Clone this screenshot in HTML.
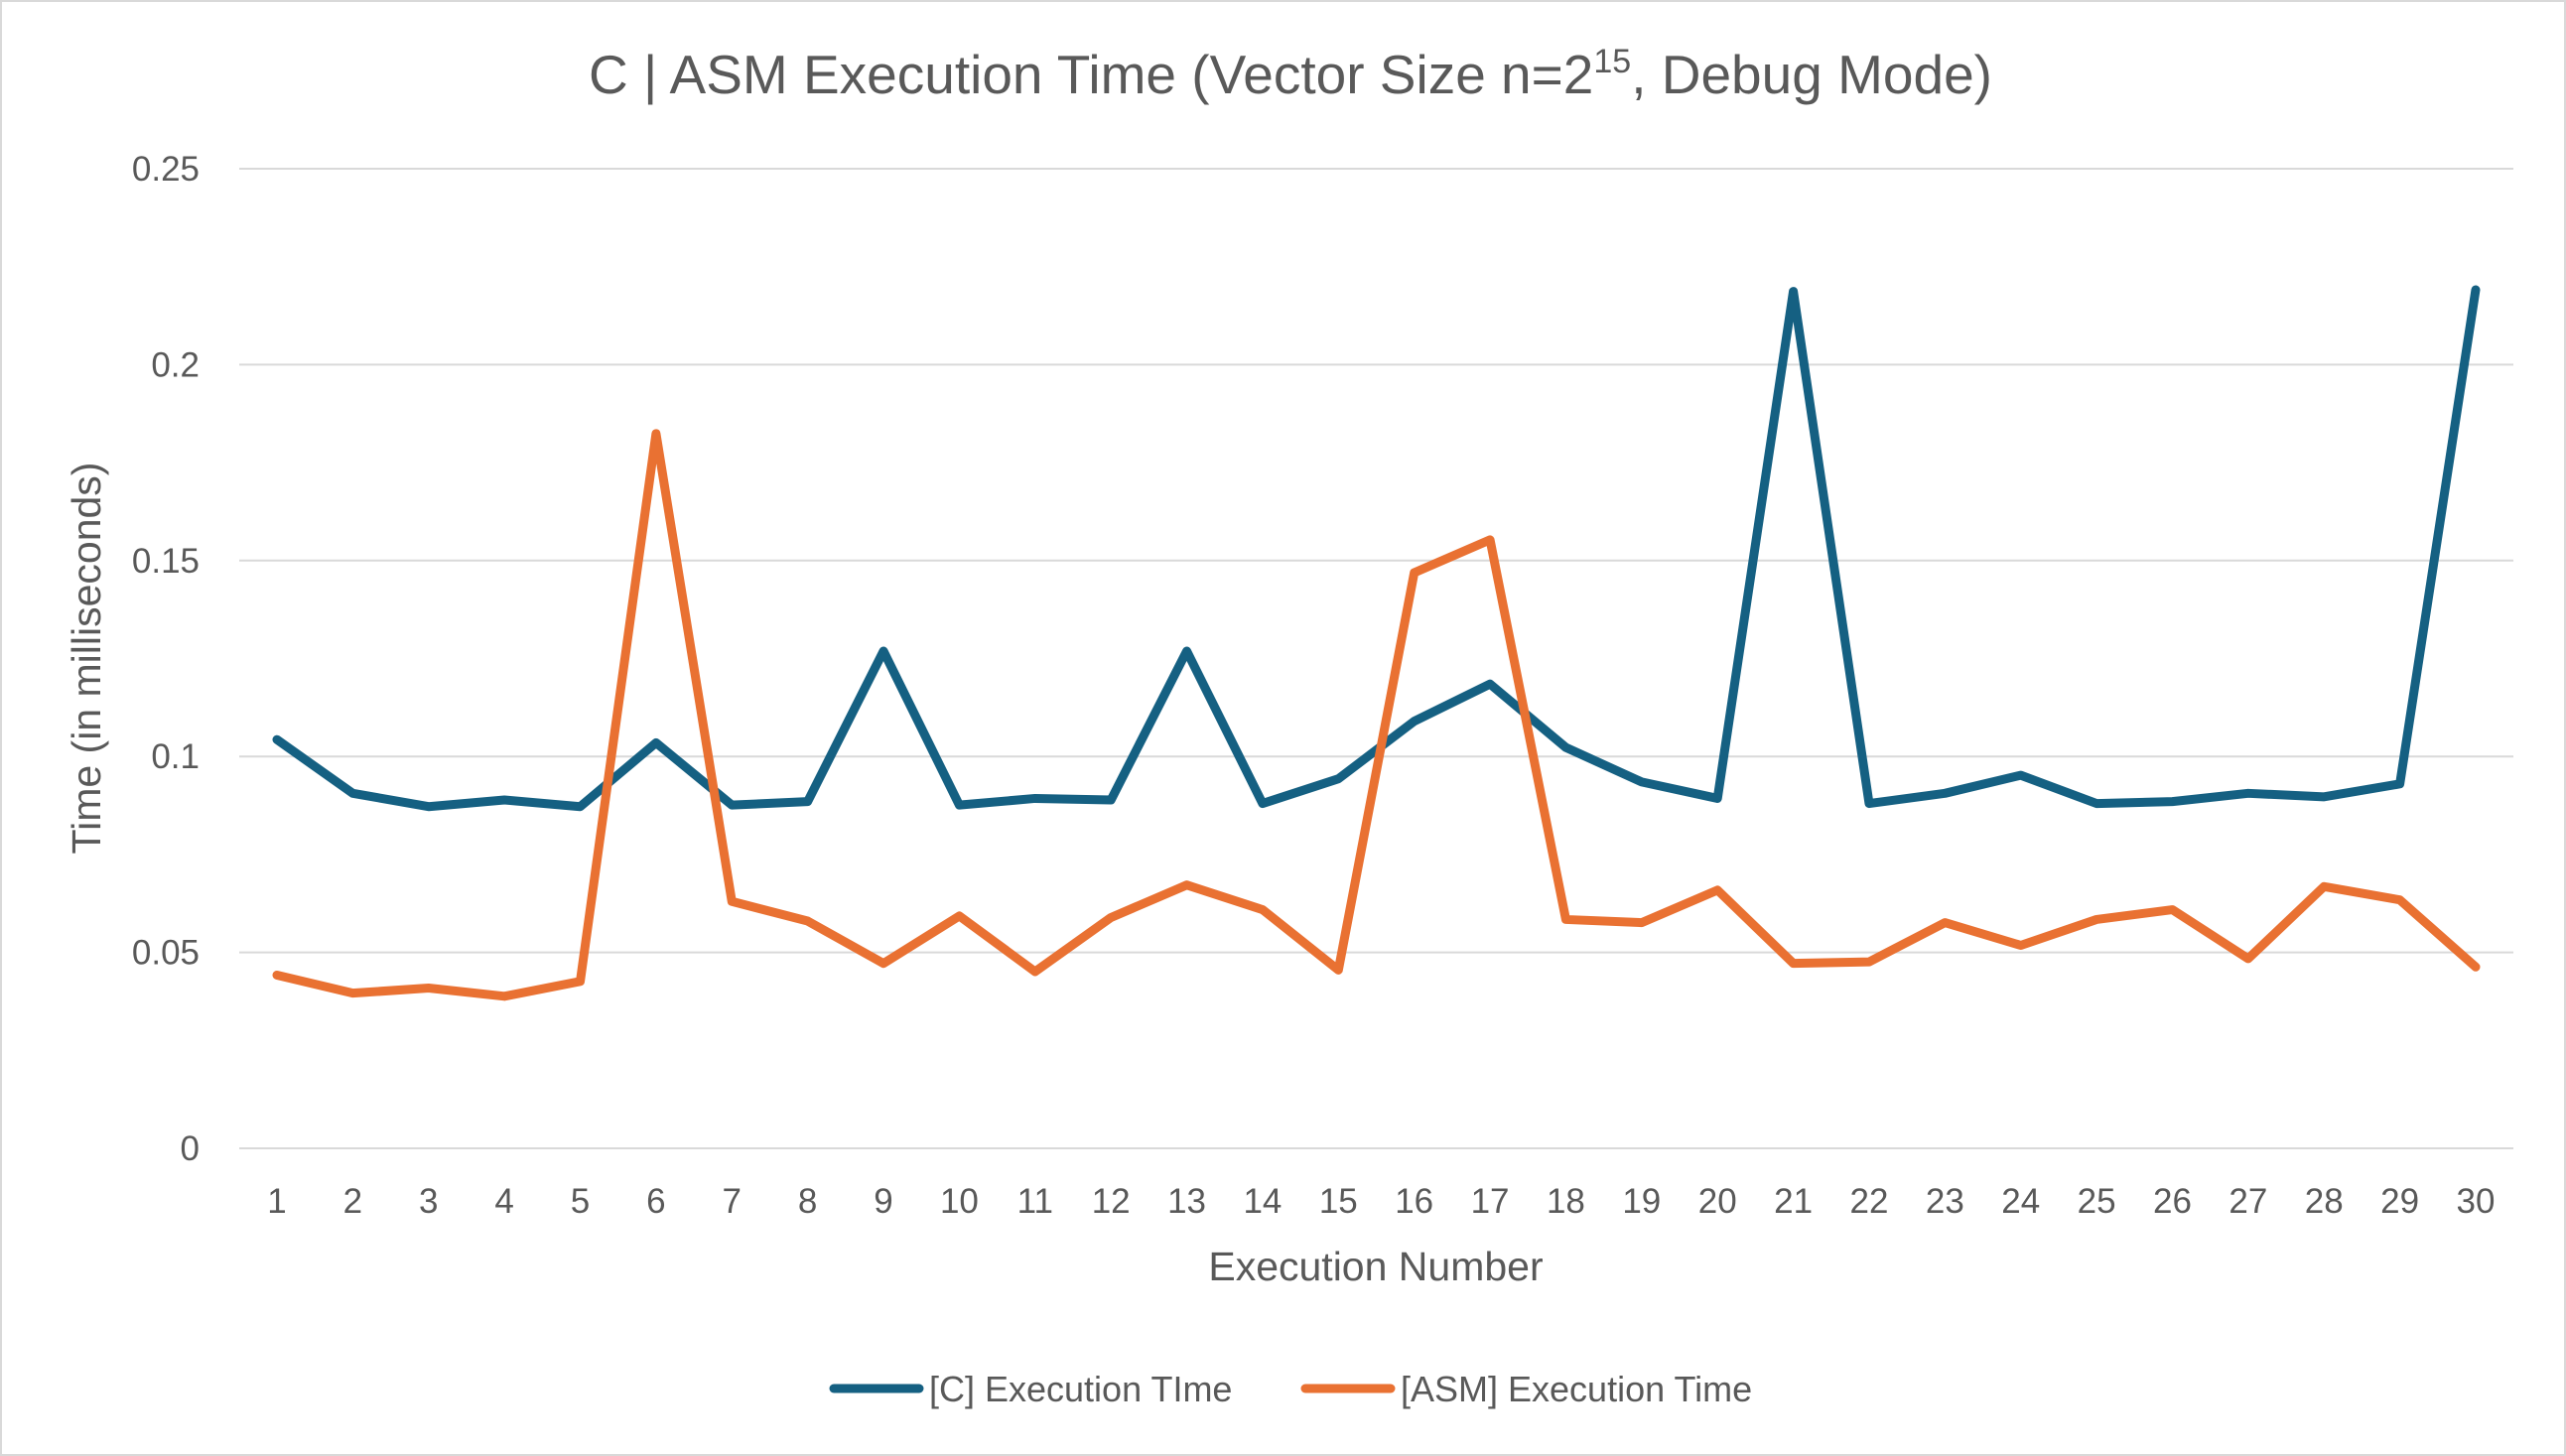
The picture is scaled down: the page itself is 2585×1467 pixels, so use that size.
<!DOCTYPE html>
<html><head><meta charset="utf-8"><style>
html,body{margin:0;padding:0;background:#fff;}
svg{display:block;font-family:"Liberation Sans",sans-serif;}
</style></head><body>
<svg id="chart" width="2585" height="1467" viewBox="0 0 2585 1467">
<rect x="1" y="1" width="2583" height="1465" fill="#fff" stroke="#d9d9d9" stroke-width="2"/>
<text x="1300" y="94" text-anchor="middle" font-size="55" fill="#595959">C | ASM Execution Time (Vector Size n=2<tspan dy="-21" font-size="34">15</tspan><tspan dy="21">, Debug Mode)</tspan></text>
<g id="grid"></g>
<g id="series"></g>
<text x="0" y="0" transform="translate(101,663) rotate(-90)" text-anchor="middle" font-size="41" fill="#595959">Time (in milliseconds)</text>
<text x="1386" y="1290" text-anchor="middle" font-size="41" fill="#595959">Execution Number</text>
<g>
<g>
<line x1="840" y1="1399" x2="926" y2="1399" stroke="#156082" stroke-width="9" stroke-linecap="round"/>
<text x="936" y="1412" font-size="36" fill="#595959">[C] Execution TIme</text></g>
<g>
<line x1="1315" y1="1399" x2="1401" y2="1399" stroke="#E97132" stroke-width="9" stroke-linecap="round"/>
<text x="1411" y="1412" font-size="36" fill="#595959">[ASM] Execution Time</text></g>
</g>
</svg>
<script>
const categories=[1,2,3,4,5,6,7,8,9,10,11,12,13,14,15,16,17,18,19,20,21,22,23,24,25,26,27,28,29,30];
const cValues=[0.1043,0.0906,0.0872,0.0889,0.0872,0.1035,0.0876,0.0885,0.1269,0.0876,0.0893,0.0889,0.1269,0.088,0.0943,0.109,0.1185,0.1023,0.0935,0.0893,0.2187,0.088,0.0906,0.0952,0.088,0.0885,0.0906,0.0897,0.093,0.2191];
const asmValues=[0.0442,0.0396,0.0409,0.0388,0.0426,0.1824,0.063,0.058,0.0472,0.0593,0.0451,0.0589,0.0672,0.0609,0.0455,0.1469,0.1553,0.0584,0.0576,0.0659,0.0472,0.0476,0.0576,0.0518,0.0584,0.0609,0.0484,0.0668,0.0634,0.0463];
const yTicks=[0,0.05,0.1,0.15,0.2,0.25];
const yTickLabels=["0","0.05","0.1","0.15","0.2","0.25"];
const NS="http://www.w3.org/2000/svg";
function xPos(i){return 279+i*(2494-279)/29;}
function yPos(v){return 1157-v*(1157-170)/0.25;}
const grid=document.getElementById('grid');
yTicks.forEach((t,i)=>{
 const l=document.createElementNS(NS,'line');
 l.setAttribute('x1',241);l.setAttribute('x2',2532);
 l.setAttribute('y1',yPos(t));l.setAttribute('y2',yPos(t));
 l.setAttribute('stroke','#d9d9d9');l.setAttribute('stroke-width','2');
 
 
 grid.appendChild(l);
 const tx=document.createElementNS(NS,'text');
 tx.setAttribute('x',201);tx.setAttribute('y',yPos(t)+12);
 tx.setAttribute('text-anchor','end');tx.setAttribute('font-size','35');tx.setAttribute('fill','#595959');
 tx.textContent=yTickLabels[i];
 
 
 grid.appendChild(tx);
});
categories.forEach((c,i)=>{
 const tx=document.createElementNS(NS,'text');
 tx.setAttribute('x',xPos(i));tx.setAttribute('y',1222);
 tx.setAttribute('text-anchor','middle');tx.setAttribute('font-size','35');tx.setAttribute('fill','#595959');
 tx.textContent=c;
 
 
 grid.appendChild(tx);
});
const ser=document.getElementById('series');
[[cValues,'#156082','c-series-line'],[asmValues,'#E97132','asm-series-line']].forEach(([vals,col,name])=>{
 const p=document.createElementNS(NS,'polyline');
 p.setAttribute('points',vals.map((v,i)=>xPos(i)+','+yPos(v)).join(' '));
 p.setAttribute('fill','none');p.setAttribute('stroke',col);p.setAttribute('stroke-width','9');
 p.setAttribute('stroke-linejoin','round');p.setAttribute('stroke-linecap','round');
 
 
 ser.appendChild(p);
});
</script>
</body></html>
